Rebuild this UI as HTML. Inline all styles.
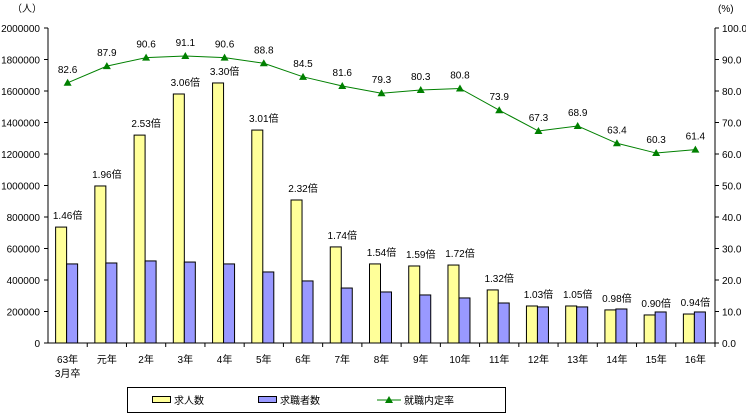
<!DOCTYPE html>
<html><head><meta charset="utf-8"><style>
body{margin:0;background:#fff;}
svg{display:block;font-family:"Liberation Sans","Noto Sans CJK JP",sans-serif;}
</style></head><body>
<svg id="c" width="746" height="414"></svg>
<script>
const categories=["63年|3月卒","元年","2年","3年","4年","5年","6年","7年","8年","9年","10年","11年","12年","13年","14年","15年","16年"];
const offers=[736000,997000,1320000,1581000,1651000,1352000,908000,610000,502000,489000,495000,337000,235000,235000,210000,178000,184000];
const seekers=[502000,508000,521000,514000,502000,451000,394000,349000,324000,305000,286000,254000,229000,229000,216000,197000,197000];
const ratios=["1.46倍","1.96倍","2.53倍","3.06倍","3.30倍","3.01倍","2.32倍","1.74倍","1.54倍","1.59倍","1.72倍","1.32倍","1.03倍","1.05倍","0.98倍","0.90倍","0.94倍"];
const rate=[82.6,87.9,90.6,91.1,90.6,88.8,84.5,81.6,79.3,80.3,80.8,73.9,67.3,68.9,63.4,60.3,61.4];
const leftTicks=[0,200000,400000,600000,800000,1000000,1200000,1400000,1600000,1800000,2000000];
const rightTicks=[0,10,20,30,40,50,60,70,80,90,100];
const NS="http://www.w3.org/2000/svg";
const svg=document.getElementById('c');
const X0=48,X1=715,Y0=343,Y1=28;
const bw=(X1-X0)/categories.length;
const yL=v=>Y0-(v/2000000)*(Y0-Y1);
const yR=v=>Y0-(v/100)*(Y0-Y1);
const xc=i=>X0+bw*(i+0.5);
function el(t,a,txt){const e=document.createElementNS(NS,t);for(const k in a)e.setAttribute(k,a[k]);if(txt!==undefined)e.textContent=txt;svg.appendChild(e);return e;}
let e;
e=el('line',{x1:X0,y1:Y1,x2:X0,y2:Y0,stroke:'#000'});


e=el('line',{x1:X1,y1:Y1,x2:X1,y2:Y0,stroke:'#000'});


e=el('line',{x1:X0,y1:Y0,x2:X1,y2:Y0,stroke:'#000'});


leftTicks.forEach(v=>{
 el('line',{x1:X0-4,y1:yL(v),x2:X0,y2:yL(v),stroke:'#000'});
 e=el('text',{x:40,y:yL(v)+4,'font-size':10,'text-anchor':'end'},String(v));
 
 
});
rightTicks.forEach(v=>{
 el('line',{x1:X1,y1:yR(v),x2:X1+4,y2:yR(v),stroke:'#000'});
 e=el('text',{x:722,y:yR(v)+4,'font-size':10},v.toFixed(1));
 
 
});
e=el('text',{x:12,y:12,'font-size':10},'（人）');


e=el('text',{x:718,y:12,'font-size':10},'(%)');


categories.forEach((c,i)=>{
 el('line',{x1:X0+bw*(i+1),y1:Y0,x2:X0+bw*(i+1),y2:Y0+4,stroke:'#000'});
 const parts=c.split('|');
 parts.forEach((p,j)=>{
  e=el('text',{x:xc(i),y:Y0+20+j*14,'font-size':10,'text-anchor':'middle'},p);
  
  
 });
 const bx=xc(i)-12;
 e=el('rect',{x:bx,y:yL(offers[i]),width:11,height:Y0-yL(offers[i]),fill:'#ffff99',stroke:'#000'});
 
 
 e=el('rect',{x:bx+11,y:yL(seekers[i]),width:11,height:Y0-yL(seekers[i]),fill:'#9999ff',stroke:'#000'});
 
 
 e=el('text',{x:xc(i),y:yL(offers[i])-8,'font-size':10,'text-anchor':'middle'},ratios[i]);
 
 
});
e=el('polyline',{points:rate.map((v,i)=>xc(i)+','+yR(v)).join(' '),fill:'none',stroke:'#008000','stroke-width':1});


rate.forEach((v,i)=>{
 const x=xc(i),y=yR(v);
 e=el('polygon',{points:`${x},${y-4} ${x-4},${y+3} ${x+4},${y+3}`,fill:'#008000'});
 
 
 e=el('text',{x:x,y:y-10,'font-size':10,'text-anchor':'middle'},v.toFixed(1));
 
 
});
e=el('rect',{x:127.5,y:387.5,width:378,height:25,fill:'#fff',stroke:'#000'});


e=el('rect',{x:152.5,y:396.5,width:18,height:6,fill:'#ffff99',stroke:'#000'});


e=el('text',{x:174,y:404,'font-size':10},'求人数');


e=el('rect',{x:258.5,y:396.5,width:18,height:6,fill:'#9999ff',stroke:'#000'});


e=el('text',{x:280,y:404,'font-size':10},'求職者数');


e=el('line',{x1:377,y1:400,x2:401,y2:400,stroke:'#008000'});


e=el('polygon',{points:'389,396 385,403 393,403',fill:'#008000'});


e=el('text',{x:404,y:404,'font-size':10},'就職内定率');


</script>
</body></html>
